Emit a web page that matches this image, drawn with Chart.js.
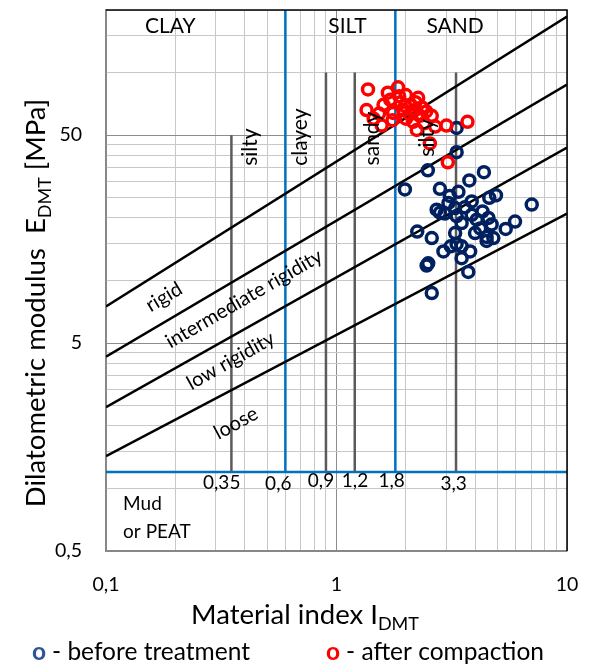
<!DOCTYPE html>
<html>
<head>
<meta charset="utf-8">
<script src="https://cdn.jsdelivr.net/npm/chart.js@4.4.1/dist/chart.umd.min.js"></script>
<style>
  html, body { margin: 0; padding: 0; background: #fff; }
</style>
</head>
<body>
<canvas id="chart" width="593" height="666"></canvas>
<script>
// material index I_DMT and modulus E_DMT
const beforeX = [3.32, 3.32, 2.49, 4.36, 3.77, 1.98, 2.81, 3.38, 3.86, 4.60, 4.92, 3.06, 2.72, 3.27, 3.32, 3.49, 3.86, 4.06, 4.56, 4.71, 7.03, 5.95, 5.42, 2.24, 2.59, 3.27, 3.99, 4.48, 4.79, 3.32, 3.49, 2.91, 3.80, 3.49, 2.46, 3.73, 2.59, 3.10, 3.60, 4.30, 2.95, 4.20, 3.13, 4.48, 2.81, 2.50];
const beforeY = [54.2, 41.4, 33.9, 33.2, 30.3, 27.4, 27.6, 26.7, 24.0, 25.0, 25.7, 23.6, 21.9, 22.3, 20.4, 18.9, 20.7, 19.6, 20.0, 18.6, 23.2, 19.2, 17.7, 17.2, 16.0, 16.9, 16.9, 16.2, 16.0, 15.0, 14.6, 13.8, 13.8, 12.8, 11.8, 11.0, 8.7, 25.5, 22.5, 21.5, 21.0, 17.8, 14.6, 15.5, 21.2, 12.1];
const afterX = [1.37, 1.35, 1.53, 1.57, 1.67, 1.71, 1.85, 1.87, 1.76, 1.98, 2.08, 2.26, 2.19, 2.30, 2.23, 2.59, 2.68, 3.00, 3.70, 2.54, 3.04, 1.60, 1.90, 2.00, 2.10, 2.20, 2.35, 1.75, 2.00, 2.40, 1.45, 2.15, 1.95, 2.45];
const afterY = [83, 66, 63.5, 55.6, 80, 74, 85, 77, 64, 69, 63, 75.6, 66, 62, 53, 62, 55, 55.6, 58, 45.6, 37, 70, 72, 78, 70, 72, 68, 59, 60, 57, 60, 58, 66, 65];

// rigidity boundaries: E at I = 0.1 and at I = 10
const boundX = [0.1, 10];
const rigidLine = [7.5, 186];
const interLine = [4.3, 87.6];
const lowLine = [2.46, 43.6];
const looseLine = [1.43, 21];

// soil type limits
const blueLimits = [0.6, 1.8];
const grayLimits = [0.35, 0.9, 1.2, 3.3];
const grayTops = [50, 100, 100, 100];
const mudLimit = 1.2;
const limitLabels = ["0,35", "0,6", "0,9", "1,2", "1,8", "3,3"];

// axes
const xTicks = [0.1, 0.2, 0.3, 0.4, 0.5, 0.6, 0.7, 0.8, 0.9, 1, 2, 3, 4, 5, 6, 7, 8, 9, 10];
const yTicks = [0.5, 1, 1.5, 2, 2.5, 3, 3.5, 4, 4.5, 5, 10, 15, 20, 25, 30, 35, 40, 45, 50, 100, 150, 200];
const xMajor = { 0.1: "0,1", 1: "1", 10: "10" };
const yMajor = { 0.5: "0,5", 5: "5", 50: "50" };

const FONT = "Lato, 'Open Sans', sans-serif";

const pts = (xs, ys) => xs.map((x, i) => ({ x: x, y: ys[i] }));
const seg = (data, color) => ({
    type: "line", data: data, borderColor: color, borderWidth: 2.5,
    pointRadius: 0, fill: false, tension: 0
});

const datasets = [
    { type: "scatter", data: pts(afterX, afterY), borderColor: "#ff0000", backgroundColor: "rgba(0,0,0,0)",
      pointRadius: 5.5, borderWidth: 3.5, pointHoverRadius: 5.5 },
    { type: "scatter", data: pts(beforeX, beforeY), borderColor: "#002060", backgroundColor: "rgba(0,0,0,0)",
      pointRadius: 5.5, borderWidth: 3.5, pointHoverRadius: 5.5 },
    seg(pts(boundX, rigidLine), "#000"),
    seg(pts(boundX, interLine), "#000"),
    seg(pts(boundX, lowLine), "#000"),
    seg(pts(boundX, looseLine), "#000"),
    ...grayLimits.map((v, i) => seg([{ x: v, y: mudLimit }, { x: v, y: grayTops[i] }], "#5a5a5a")),
    ...blueLimits.map(v => seg([{ x: v, y: mudLimit }, { x: v, y: 200 }], "#0070c0")),
    seg([{ x: 0.1, y: mudLimit }, { x: 10, y: mudLimit }], "#0070c0")
];

// text placed in data coordinates
const zoneText = [
    { t: "CLAY", x: 0.19, y: 168 },
    { t: "SILT", x: 1.116, y: 168 },
    { t: "SAND", x: 3.27, y: 168 }
];
const upText = [
    { t: "silty", x: 0.421, y: 43.8 },
    { t: "clayey", x: 0.698, y: 48.9 },
    { t: "sandy", x: 1.433, y: 48.2 },
    { t: "silty", x: 2.48, y: 48.5 }
];
const slantText = [
    { t: "rigid", x: 0.1785, y: 8.33, a: -31 },
    { t: "intermediate rigidity", x: 0.397, y: 8.17, a: -30 },
    { t: "low rigidity", x: 0.3475, y: 4.11, a: -29.5 },
    { t: "loose", x: 0.3664, y: 2.06, a: -28.5 }
];
const limitPos = [
    { x: 0.3177, y: 1.069 }, { x: 0.5591, y: 1.051 }, { x: 0.8566, y: 1.089 },
    { x: 1.203, y: 1.089 }, { x: 1.736, y: 1.089 }, { x: 3.225, y: 1.051 }
];

function put(ctx, str, px, py, font, rot, align, base, color) {
    ctx.save();
    ctx.translate(px, py);
    if (rot) ctx.rotate(rot * Math.PI / 180);
    ctx.font = font;
    ctx.fillStyle = color || "#000";
    ctx.textAlign = align || "center";
    ctx.textBaseline = base || "middle";
    ctx.fillText(str, 0, 0);
    ctx.restore();
}

// title with a subscript part, centred on 0, baseline at 0 in local frame
function subTitle(ctx, main, sub, rest, size) {
    const big = size + "px " + FONT;
    const small = Math.round(size * 0.65) + "px " + FONT;
    ctx.font = big;
    const w1 = ctx.measureText(main).width;
    const w3 = ctx.measureText(rest).width;
    ctx.font = small;
    const w2 = ctx.measureText(sub).width;
    let x = -(w1 + w2 + w3) / 2;
    ctx.textAlign = "left";
    ctx.textBaseline = "alphabetic";
    ctx.fillStyle = "#000";
    ctx.font = big;
    ctx.fillText(main, x, 0);
    x += w1;
    ctx.font = small;
    ctx.fillText(sub, x, size * 0.2);
    x += w2;
    ctx.font = big;
    ctx.fillText(rest, x, 0);
}

const annotate = {
    id: "annotate",
    afterDatasetsDraw(chart) {
        const { ctx, scales: { x, y } } = chart;
        zoneText.forEach(d => put(ctx, d.t, x.getPixelForValue(d.x), y.getPixelForValue(d.y), "21px " + FONT));
        upText.forEach(d => put(ctx, d.t, x.getPixelForValue(d.x), y.getPixelForValue(d.y), "21px " + FONT, -90));
        slantText.forEach(d => put(ctx, d.t, x.getPixelForValue(d.x), y.getPixelForValue(d.y), "20px " + FONT, d.a));
        limitLabels.forEach((t, i) => put(ctx, t, x.getPixelForValue(limitPos[i].x), y.getPixelForValue(limitPos[i].y), "19px " + FONT));
        put(ctx, "Mud", x.getPixelForValue(0.1186), y.getPixelForValue(0.788), "19px " + FONT, 0, "left", "alphabetic");
        put(ctx, "or PEAT", x.getPixelForValue(0.1186), y.getPixelForValue(0.577), "19px " + FONT, 0, "left", "alphabetic");
    },
    afterDraw(chart) {
        const { ctx, chartArea: a } = chart;
        // top and right frame
        ctx.save();
        ctx.strokeStyle = "#000";
        ctx.lineWidth = 1.5;
        ctx.beginPath();
        ctx.moveTo(a.left, a.top);
        ctx.lineTo(a.right, a.top);
        ctx.lineTo(a.right, a.bottom);
        ctx.stroke();
        ctx.restore();

        // axis titles
        ctx.save();
        ctx.translate(305, 624);
        subTitle(ctx, "Material index I", "DMT", "", 27.5);
        ctx.restore();

        ctx.save();
        ctx.translate(45, 303);
        ctx.rotate(-Math.PI / 2);
        subTitle(ctx, "Dilatometric modulus  E", "DMT", " [MPa]", 27.5);
        ctx.restore();

        // legend
        ctx.save();
        ctx.textBaseline = "alphabetic";
        ctx.textAlign = "left";
        const items = [["#2f5597", "- before treatment", 32], ["#ff0000", "- after compaction", 326]];
        items.forEach(([c, t, lx]) => {
            ctx.font = "bold 24.5px " + FONT;
            ctx.fillStyle = c;
            ctx.fillText("o", lx, 660);
            const w = ctx.measureText("o ").width;
            ctx.font = "24.5px " + FONT;
            ctx.fillStyle = "#000";
            ctx.fillText(t, lx + w, 660);
        });
        ctx.restore();
    }
};

// scale size is fixed so the plot area matches the figure
function noPad(s) {
    s.paddingTop = 0;
    s.paddingBottom = 0;
    s.paddingLeft = 0;
    s.paddingRight = 0;
}

new Chart(document.getElementById("chart"), {
    type: "scatter",
    data: { datasets: datasets },
    options: {
        responsive: false,
        animation: false,
        devicePixelRatio: 1,
        layout: { padding: { top: 10, right: 26, left: 0, bottom: 0 } },
        plugins: { legend: { display: false }, tooltip: { enabled: false } },
        scales: {
            x: {
                type: "logarithmic", min: 0.1, max: 10,
                afterBuildTicks: s => { s.ticks = xTicks.map(v => ({ value: v })); },
                afterFit: s => { s.height = 115; noPad(s); },
                ticks: {
                    autoSkip: false, maxRotation: 0, padding: 22, color: "#000",
                    font: { family: FONT, size: 19.5 },
                    callback: v => xMajor[v] || ""
                },
                grid: {
                    drawTicks: false, lineWidth: 1,
                    color: c => (c.tick && xMajor[c.tick.value]) ? "#8c8c8c" : "#c8c8c8"
                },
                border: { color: "#868686", width: 1.5 }
            },
            y: {
                type: "logarithmic", min: 0.5, max: 200,
                afterBuildTicks: s => { s.ticks = yTicks.map(v => ({ value: v })); },
                afterFit: s => { s.width = 106; noPad(s); },
                ticks: {
                    autoSkip: false, padding: 24, color: "#000",
                    font: { family: FONT, size: 19.5 },
                    callback: v => yMajor[v] || ""
                },
                grid: {
                    drawTicks: false, lineWidth: 1,
                    color: c => (c.tick && yMajor[c.tick.value]) ? "#8c8c8c" : "#c8c8c8"
                },
                border: { color: "#868686", width: 1.5 }
            }
        }
    },
    plugins: [annotate]
});
</script>
</body>
</html>
